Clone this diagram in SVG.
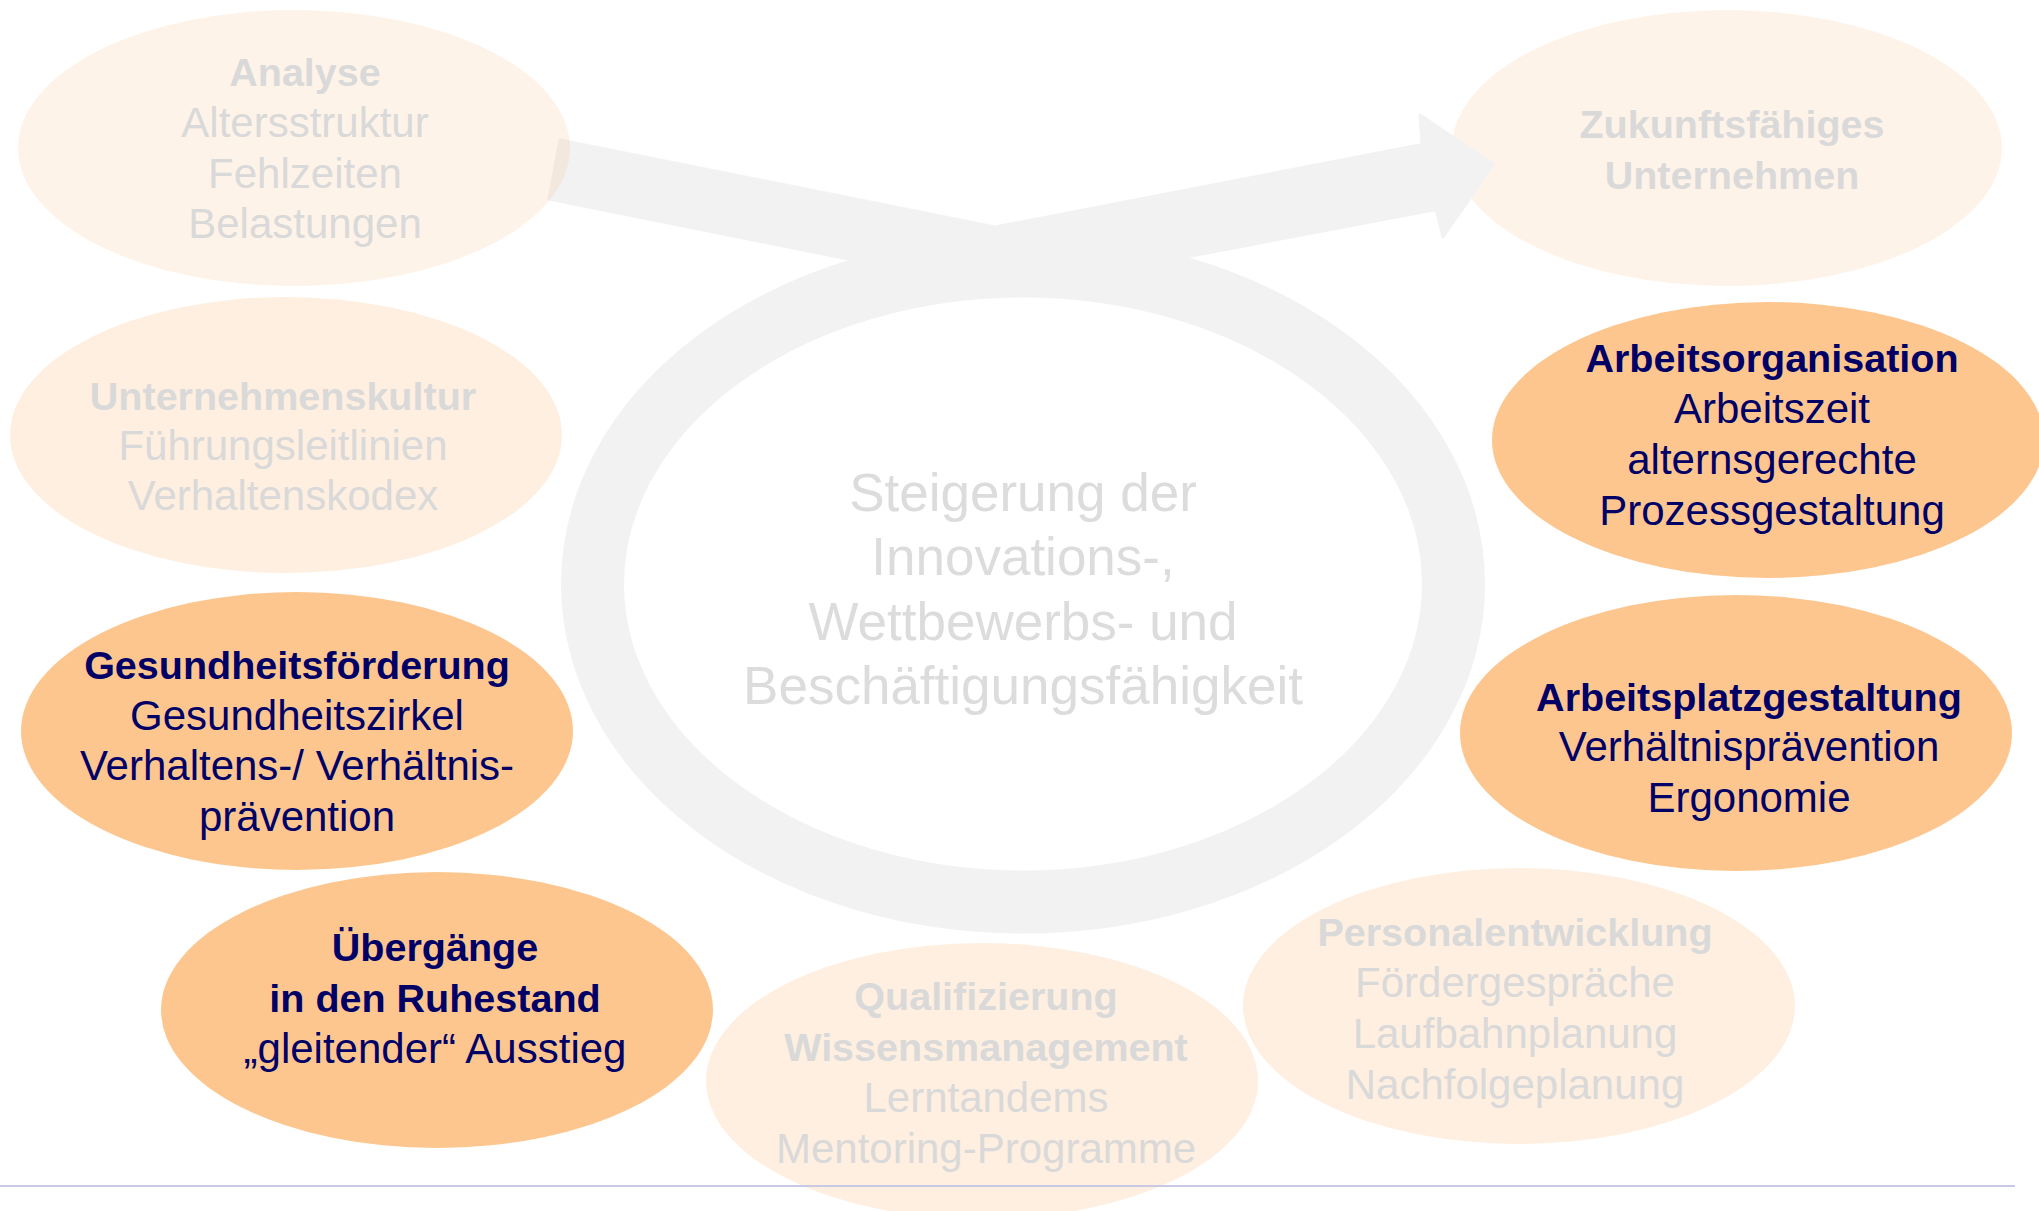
<svg xmlns="http://www.w3.org/2000/svg" width="2039" height="1211" viewBox="0 0 2039 1211">
<style>
text{font-family:"Liberation Sans",Arial,sans-serif;text-anchor:middle}
.b{font-weight:bold;font-size:39.5px}
.r{font-size:42px}
.fade{fill:#d9d9d9}
.dark{fill:#000066}
.light{fill:#fcc58c;fill-opacity:0.27}
.lightp{fill:#fcc58c;fill-opacity:0.2}
.orange{fill:#fdc68e}
.ctr{font-size:53px;fill:#dcdcdc}
</style>
<rect width="2039" height="1211" fill="#ffffff"/>
<g id="zukunft">
<ellipse class="lightp" cx="1727" cy="148" rx="275" ry="138"/>
<text class="b fade" x="1732" y="138">Zukunftsfähiges</text>
<text class="b fade" x="1732" y="189">Unternehmen</text>
</g>
<g id="connectors">
<ellipse cx="1023" cy="584" rx="430.5" ry="318" fill="none" stroke="#f2f2f2" stroke-width="63"/>
<polygon points="560,140 995,227 1422,144.5 1420,115 1493.5,164.5 1443,237 1436,209.5 1007,291 549,199" fill="#f2f2f2" stroke="#f2f2f2" stroke-width="3" stroke-linejoin="round"/>
</g>
<g id="center">
<text class="ctr" x="1023" y="511">Steigerung der</text>
<text class="ctr" x="1023" y="575">Innovations-,</text>
<text class="ctr" x="1023" y="640">Wettbewerbs- und</text>
<text class="ctr" x="1023" y="704">Beschäftigungsfähigkeit</text>
</g>
<g id="analyse">
<ellipse class="lightp" cx="294" cy="148" rx="276" ry="138"/>
<text class="b fade" x="305" y="86">Analyse</text>
<text class="r fade" x="305" y="137">Altersstruktur</text>
<text class="r fade" x="305" y="187.5">Fehlzeiten</text>
<text class="r fade" x="305" y="238">Belastungen</text>
</g>
<g id="kultur">
<ellipse class="light" cx="286" cy="435" rx="276" ry="138"/>
<text class="b fade" x="283" y="409.5">Unternehmenskultur</text>
<text class="r fade" x="283" y="459.5">Führungsleitlinien</text>
<text class="r fade" x="283" y="510">Verhaltenskodex</text>
</g>
<g id="arbeitsorganisation">
<ellipse class="orange" cx="1768" cy="440" rx="276" ry="138"/>
<text class="b dark" x="1772" y="372">Arbeitsorganisation</text>
<text class="r dark" x="1772" y="423">Arbeitszeit</text>
<text class="r dark" x="1772" y="474">alternsgerechte</text>
<text class="r dark" x="1772" y="525">Prozessgestaltung</text>
</g>
<g id="gesundheit">
<ellipse class="orange" cx="297" cy="731" rx="276" ry="139"/>
<text class="b dark" x="297" y="679">Gesundheitsförderung</text>
<text class="r dark" x="297" y="729.5">Gesundheitszirkel</text>
<text class="r dark" x="297" y="780">Verhaltens-/ Verhältnis-</text>
<text class="r dark" x="297" y="830.5">prävention</text>
</g>
<g id="arbeitsplatz">
<ellipse class="orange" cx="1736" cy="733" rx="276" ry="138"/>
<text class="b dark" x="1749" y="711">Arbeitsplatzgestaltung</text>
<text class="r dark" x="1749" y="761">Verhältnisprävention</text>
<text class="r dark" x="1749" y="811.5">Ergonomie</text>
</g>
<g id="uebergaenge">
<ellipse class="orange" cx="437" cy="1010" rx="276" ry="138"/>
<text class="b dark" x="435" y="961">Übergänge</text>
<text class="b dark" x="435" y="1012">in den Ruhestand</text>
<text class="r dark" x="435" y="1063">„gleitender“ Ausstieg</text>
</g>
<g id="personal">
<ellipse class="light" cx="1519" cy="1006" rx="276" ry="138"/>
<text class="b fade" x="1515" y="946">Personalentwicklung</text>
<text class="r fade" x="1515" y="997">Fördergespräche</text>
<text class="r fade" x="1515" y="1048">Laufbahnplanung</text>
<text class="r fade" x="1515" y="1099">Nachfolgeplanung</text>
</g>
<g id="qualifizierung">
<ellipse class="light" cx="982" cy="1081" rx="276" ry="138"/>
<text class="b fade" x="986" y="1010">Qualifizierung</text>
<text class="b fade" x="986" y="1061">Wissensmanagement</text>
<text class="r fade" x="986" y="1112">Lerntandems</text>
<text class="r fade" x="986" y="1163">Mentoring-Programme</text>
</g>
<line x1="0" y1="1186" x2="2015" y2="1186" stroke="#c9c9e3" stroke-width="2"/>
</svg>
